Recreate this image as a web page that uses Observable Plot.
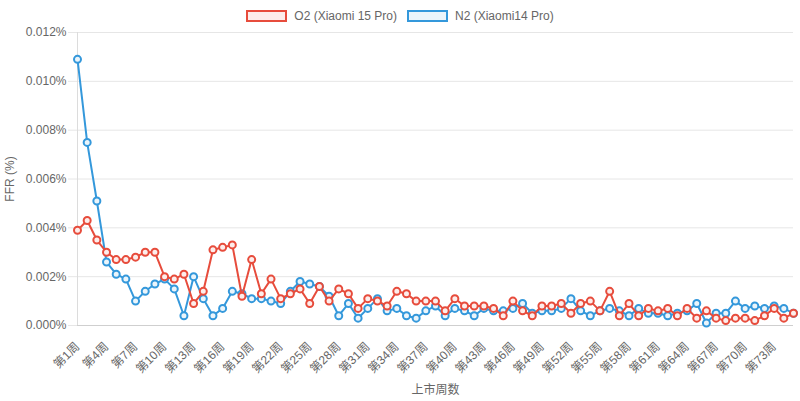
<!DOCTYPE html>
<html><head><meta charset="utf-8">
<script src="https://cdn.jsdelivr.net/npm/d3@7"></script>
<script src="https://cdn.jsdelivr.net/npm/@observablehq/plot@0.6"></script>
<style>
body{margin:0;background:#fff;font-family:"Liberation Sans",Arial,"Noto Sans CJK SC",sans-serif;}
#legend{height:14px;padding-top:10px;display:flex;justify-content:center;font-size:12px;line-height:12px;color:#666;}
.item{display:flex;align-items:center;margin:0 5px;height:12px;}
.box{box-sizing:border-box;width:41px;height:12px;border:2px solid;margin-right:7px;}
#chart svg{display:block;overflow:visible;}
</style></head><body>
<div id="legend"></div><div id="chart"></div>
<script>
const weeks = Array.from({length: 75}, (_, i) => `第${i + 1}周`);
const xTickLabels = weeks.filter((d, i) => i % 3 === 0);
const yTicks = [0, 0.002, 0.004, 0.006, 0.008, 0.010, 0.012];
const seriesNames = ["O2 (Xiaomi 15 Pro)", "N2 (Xiaomi14 Pro)"];
const seriesColors = ["#e74c3c", "#3498db"];
const seriesFills = ["#fdedeb", "#ebf5fb"];
const o2 = [0.0039,0.0043,0.0035,0.0030,0.0027,0.0027,0.0028,0.0030,0.0030,0.0020,
  0.0019,0.0021,0.0009,0.0014,0.0031,0.0032,0.0033,0.0012,0.0027,0.0013,
  0.0019,0.0011,0.0013,0.0015,0.0009,0.0016,0.0010,0.0015,0.0013,0.0007,
  0.0011,0.0010,0.0008,0.0014,0.0013,0.0010,0.0010,0.0010,0.0006,0.0011,
  0.0008,0.0008,0.0008,0.0007,0.0004,0.0010,0.0006,0.0004,0.0008,0.0008,
  0.0009,0.0005,0.0009,0.0010,0.0006,0.0014,0.0004,0.0009,0.0004,0.0007,
  0.0006,0.0007,0.0004,0.0007,0.0003,0.0006,0.0003,0.0002,0.0003,0.0003,
  0.0002,0.0004,0.0007,0.0003,0.0005];
const n2 = [0.0109,0.0075,0.0051,0.0026,0.0021,0.0019,0.0010,0.0014,0.0017,0.0019,
  0.0015,0.0004,0.0020,0.0011,0.0004,0.0007,0.0014,0.0013,0.0011,0.0011,
  0.0010,0.0009,0.0014,0.0018,0.0017,0.0016,0.0012,0.0004,0.0009,0.0003,
  0.0007,0.0011,0.0006,0.0007,0.0004,0.0003,0.0006,0.0008,0.0004,0.0007,
  0.0006,0.0004,0.0007,0.0006,0.0006,0.0007,0.0009,0.0005,0.0006,0.0006,
  0.0007,0.0011,0.0006,0.0004,0.0006,0.0007,0.0006,0.0004,0.0007,0.0005,
  0.0005,0.0004,0.0005,0.0006,0.0009,0.0001,0.0005,0.0005,0.0010,0.0007,
  0.0008,0.0007,0.0008,0.0007,0.0005];

const legend = document.getElementById("legend");
seriesNames.forEach((n, i) => {
  const it = document.createElement("div"); it.className = "item";
  const b = document.createElement("div"); b.className = "box";
  b.style.borderColor = seriesColors[i]; b.style.background = seriesFills[i];
  const t = document.createElement("span"); t.textContent = n;
  it.appendChild(b); it.appendChild(t); legend.appendChild(it);
});

const toRows = arr => arr.map((v, i) => ({week: weeks[i], v}));
const rowsO2 = toRows(o2), rowsN2 = toRows(n2);
const fmt = d => d.toFixed(3) + "%";

const chart = Plot.plot({
  width: 800, height: 377,
  marginTop: 8, marginBottom: 76, marginLeft: 77, marginRight: 7,
  style: {fontFamily: '"Liberation Sans", Arial, "Noto Sans CJK SC", sans-serif', fontSize: "12px", color: "#666", background: "#fff", overflow: "visible"},
  x: {type: "point", domain: weeks, padding: 0},
  y: {domain: [0, 0.012]},
  marks: [
    Plot.gridY(yTicks, {stroke: "#e6e6e6", strokeOpacity: 1}),
    Plot.axisY(yTicks, {tickSize: 9, tickPadding: 2, stroke: "#e6e6e6", strokeOpacity: 1, tickFormat: fmt, fill: "#666", fontSize: 12,
      label: "FFR (%)", labelAnchor: "center", labelArrow: "none", labelOffset: 72}),
    Plot.ruleX([weeks[0]], {stroke: "#dcdcdc"}),
    Plot.ruleY([0], {stroke: "#cfcfcf"}),
    Plot.axisX(xTickLabels, {tickSize: 0, tickPadding: 19, tickRotate: -45, fill: "#666", fontSize: 12,
      label: "上市周数", labelAnchor: "center", labelArrow: "none", labelOffset: 68}),
    Plot.line(rowsN2, {x: "week", y: "v", stroke: seriesColors[1], strokeWidth: 2}),
    Plot.dot(rowsN2, {x: "week", y: "v", r: 3.5, stroke: seriesColors[1], strokeWidth: 2, fill: seriesFills[1]}),
    Plot.line(rowsO2, {x: "week", y: "v", stroke: seriesColors[0], strokeWidth: 2}),
    Plot.dot(rowsO2, {x: "week", y: "v", r: 3.5, stroke: seriesColors[0], strokeWidth: 2, fill: seriesFills[0]})
  ]
});
document.getElementById("chart").appendChild(chart);
</script>
</body></html>
